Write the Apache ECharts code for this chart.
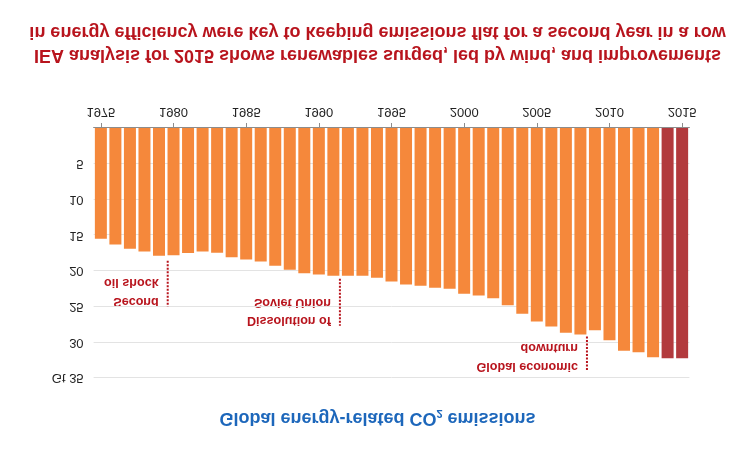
<!DOCTYPE html>
<html>
<head>
<meta charset="utf-8">
<script src="https://cdn.jsdelivr.net/npm/echarts@6/dist/echarts.min.js"></script>
<style>
html,body{margin:0;padding:0;background:#fff;}
#chart{width:755px;height:449px;transform:scaleY(-1);}
</style>
</head>
<body>
<div id="chart"></div>
<script>
// ---- data ----
const years = ['1975','1976','1977','1978','1979','1980','1981','1982','1983','1984',
  '1985','1986','1987','1988','1989','1990','1991','1992','1993','1994',
  '1995','1996','1997','1998','1999','2000','2001','2002','2003','2004',
  '2005','2006','2007','2008','2009','2010','2011','2012','2013','2014','2015'];
const emissions = [15.5,16.3,16.9,17.3,17.9,17.8,17.5,17.3,17.45,18.1,
  18.4,18.7,19.3,19.85,20.35,20.5,20.7,20.7,20.7,20.95,
  21.5,21.9,22.1,22.35,22.5,23.2,23.45,23.85,24.8,26.0,
  27.1,27.8,28.65,28.9,28.3,29.7,31.2,31.4,32.1,32.25,32.25];
const highlightYears = ['2014','2015'];
const yTicks = [0,5,10,15,20,25,30,35];
const yTickLabels = ['','5','10','15','20','25','30','Gt 35'];
const annoX = [1979.6, 1991.45, 2008.45];
const annoFrom = [18.6, 21.1, 29.2];
const annoTo = [25.0, 27.7, 34.1];
const annoText = ['Second\noil shock', 'Dissolution of\nSoviet Union', 'Global economic\ndownturn'];
const titleLines = ['IEA analysis for 2015 shows renewables surged, led by wind, and improvements',
  'in energy efficiency were key to keeping emissions flat for a second year in a row'];
const subtitleText = 'Global energy-related CO{sub|2} emissions';

// ---- style ----
const FONT = '"Liberation Sans", Arial, sans-serif';
const ORANGE = '#f5883b';
const DARKRED = '#b23a3d';
const ANNO = '#b8141d';

const chart = echarts.init(document.getElementById('chart'), null, {renderer:'canvas'});

const annoSeries = annoX.map((x, i) => ({
  type: 'line',
  xAxisIndex: 1,
  yAxisIndex: 0,
  data: [[x, annoFrom[i]], [x, annoTo[i]]],
  symbol: 'none',
  silent: true,
  lineStyle: {color: ANNO, width: 2, type: [2, 1.5]},
  z: 5
}));

const option = {
  animation: false,
  backgroundColor: '#fff',
  title: [{
    text: subtitleText,
    left: 'center',
    top: 17,
    textStyle: {
      fontFamily: FONT, fontSize: 18, fontWeight: 'bold', color: '#1d67bb',
      rich: {sub: {fontFamily: FONT, fontSize: 11, fontWeight: 'bold', color: '#1d67bb', verticalAlign: 'bottom', padding: [8, 0, 0, 0]}}
    }
  }],
  grid: {left: 93.6, right: 65.6, top: 71, bottom: 128, containLabel: false},
  xAxis: [{
    type: 'category',
    data: years,
    boundaryGap: true,
    axisLine: {show: true, lineStyle: {color: '#8c8c8c', width: 1}},
    axisTick: {show: true, interval: 4, alignWithLabel: true, length: 5, lineStyle: {color: '#8c8c8c'}},
    axisLabel: {interval: 4, margin: 10, color: '#222', fontSize: 13, fontFamily: FONT},
    splitLine: {show: false}
  }, {
    type: 'value',
    min: 1974.5,
    max: 2015.5,
    show: false
  }],
  yAxis: [{
    type: 'value',
    min: 0,
    max: 35,
    interval: 5,
    axisLine: {show: false},
    axisTick: {show: false},
    axisLabel: {
      margin: 10, color: '#222', fontSize: 13, fontFamily: FONT,
      formatter: v => { const k = yTicks.indexOf(v); return k >= 0 ? yTickLabels[k] : ''; }
    },
    splitLine: {show: true, lineStyle: {color: '#e3e3e3', width: 1}}
  }],
  series: [{
    type: 'bar',
    data: emissions.map((v, i) => ({
      value: v,
      itemStyle: {color: highlightYears.indexOf(years[i]) >= 0 ? DARKRED : ORANGE}
    })),
    barWidth: 12,
    silent: true,
    z: 2
  }].concat(annoSeries),
  graphic: {elements: titleLines.map((t, i) => ({
    id: 'title' + i,
    type: 'text',
    x: 377.5,
    y: 394 + i * 23.4,
    silent: true,
    style: {text: t, align: 'center', verticalAlign: 'middle', fill: '#b8141d',
      fontFamily: FONT, fontSize: 18, fontWeight: 'bold'}
  }))}
};

chart.setOption(option);

const annoGraphics = annoText.map((t, i) => {
  const p = chart.convertToPixel({seriesIndex: i + 1}, [annoX[i], annoTo[i]]);
  return {
    id: 'anno' + i,
    type: 'text',
    x: p[0] - 9,
    y: p[1] - 4,
    silent: true,
    style: {text: t, align: 'right', verticalAlign: 'top', fill: ANNO,
      fontFamily: FONT, fontSize: 12.6, fontWeight: 'bold', lineHeight: 18.5}
  };
});
chart.setOption({graphic: {elements: annoGraphics}});
</script>
</body>
</html>
